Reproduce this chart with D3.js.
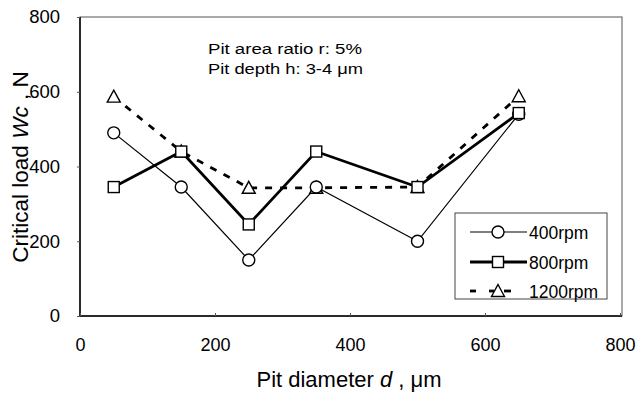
<!DOCTYPE html>
<html><head><meta charset="utf-8">
<script src="https://cdn.jsdelivr.net/npm/d3@7"></script>
<style>body{margin:0;background:#fff}svg{display:block}text{font-family:Arial,"Liberation Sans",sans-serif;fill:#000}</style>
</head><body><svg id="c" width="638" height="393"></svg>
<script>
const diameters = [50, 150, 250, 350, 500, 650];
const rpm400 = [490, 345, 150, 345, 200, 540];
const rpm800 = [345, 440, 245, 440, 345, 543];
const rpm1200 = [587, 440, 343, 343, 345, 588];
const seriesNames = ["400rpm", "800rpm", "1200rpm"];
const xTicks = [0, 200, 400, 600, 800];
const yTicks = [0, 200, 400, 600, 800];

const svg = d3.select("#c");
const L = 80, R = 620, T = 17, B = 316;
const x = d3.scaleLinear().domain([0, 800]).range([L, R]);
const y = d3.scaleLinear().domain([0, 800]).range([B, T]);

// plot frame
svg.append("rect").attr("x", L).attr("y", T).attr("width", 622 - L).attr("height", B - T)
  .attr("fill", "none").attr("stroke", "#555").attr("stroke-width", 1);
svg.append("line").attr("x1", L).attr("x2", L).attr("y1", T).attr("y2", B).attr("stroke", "#000").attr("stroke-width", 1.5);
svg.append("line").attr("x1", L).attr("x2", 622).attr("y1", B).attr("y2", B).attr("stroke", "#000").attr("stroke-width", 1.5);

// axes
const xa = svg.append("g").attr("transform", `translate(0,${B})`)
  .call(d3.axisBottom(x).tickValues(xTicks).tickSize(-3).tickPadding(22));
xa.select(".domain").remove();
xa.selectAll("text").attr("font-size", 18).attr("dy", "0.72em");
const ya = svg.append("g").attr("transform", `translate(${L},0)`)
  .call(d3.axisLeft(y).tickValues(yTicks).tickSize(3).tickPadding(17));
ya.select(".domain").remove();
ya.selectAll("text").attr("font-size", 18.5);
svg.selectAll(".tick line").attr("stroke", "#555");

// axis titles
const xt = svg.append("text").attr("x", 349).attr("y", 387).attr("text-anchor", "middle").attr("font-size", 22);
xt.append("tspan").text("Pit diameter ");
xt.append("tspan").attr("font-style", "italic").text("d");
xt.append("tspan").text(" , \u03bcm");
const yt = svg.append("text").attr("transform", "translate(28,167) rotate(-90)").attr("text-anchor", "middle").attr("font-size", 22.5);
yt.append("tspan").text("Critical load ");
yt.append("tspan").attr("font-style", "italic").text("Wc");
yt.append("tspan").text(" , N");

// annotation
svg.append("text").attr("x", 208).attr("y", 54).attr("font-size", 15.5)
  .attr("textLength", 154).attr("lengthAdjust", "spacingAndGlyphs").text("Pit area ratio r: 5%");
svg.append("text").attr("x", 208).attr("y", 74).attr("font-size", 15.5)
  .attr("textLength", 155).attr("lengthAdjust", "spacingAndGlyphs").text("Pit depth h: 3-4 \u03bcm");

const styles = [
  {data: rpm400, w: 1.2, dash: null, sym: "circle"},
  {data: rpm800, w: 2.8, dash: null, sym: "square"},
  {data: rpm1200, w: 2.8, dash: "7,8", sym: "triangle"}
];
function marker(g, sym, cx, cy) {
  if (sym === "circle") g.append("circle").attr("cx", cx).attr("cy", cy).attr("r", 6);
  else if (sym === "square") g.append("rect").attr("x", cx - 5.5).attr("y", cy - 5.5).attr("width", 11).attr("height", 11);
  else g.append("path").attr("d", `M${cx},${cy - 6.5}L${cx + 6.5},${cy + 5.5}L${cx - 6.5},${cy + 5.5}Z`);
}
const line = d3.line().x((d, i) => x(diameters[i])).y(d => y(d));
[2, 0, 1].forEach(k => {
  const s = styles[k];
  svg.append("path").datum(s.data).attr("d", line).attr("fill", "none").attr("stroke", "#000")
    .attr("stroke-width", s.w).attr("stroke-dasharray", s.dash);
});
[2, 0, 1].forEach(k => {
  const s = styles[k];
  const g = svg.append("g").attr("fill", "#fff").attr("stroke", "#000").attr("stroke-width", 1.4);
  s.data.forEach((v, i) => marker(g, s.sym, x(diameters[i]), y(v)));
});

// legend
svg.append("rect").attr("x", 455).attr("y", 213).attr("width", 152).attr("height", 86)
  .attr("fill", "#fff").attr("stroke", "#444").attr("stroke-width", 1);
const rowY = [232, 262, 291];
seriesNames.forEach((n, i) => {
  const s = styles[i];
  const ly = rowY[i];
  if (s.dash) {
    [[470, 476], [489, 494], [504, 511]].forEach(([a, b]) =>
      svg.append("line").attr("x1", a).attr("x2", b).attr("y1", ly).attr("y2", ly)
        .attr("stroke", "#000").attr("stroke-width", s.w));
  } else {
    svg.append("line").attr("x1", 470).attr("x2", 527).attr("y1", ly).attr("y2", ly)
      .attr("stroke", "#000").attr("stroke-width", s.w);
  }
  const g = svg.append("g").attr("fill", "#fff").attr("stroke", "#000").attr("stroke-width", 1.4);
  marker(g, s.sym, 498, ly);
  svg.append("text").attr("x", 529).attr("y", ly + 6.5).attr("font-size", 17.5).text(n);
});
</script></body></html>
